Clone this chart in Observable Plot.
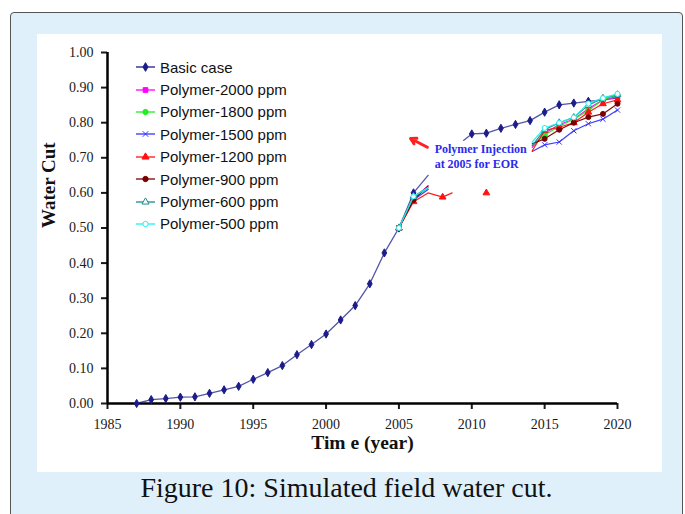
<!DOCTYPE html>
<html><head><meta charset="utf-8">
<script src="https://cdn.jsdelivr.net/npm/d3@7"></script>
<script src="https://cdn.jsdelivr.net/npm/@observablehq/plot@0.6"></script>
<style>
html,body{margin:0;padding:0;background:#fff;}
#wrap{position:relative;width:685px;height:514px;overflow:hidden;background:#fff;}
#frame{position:absolute;left:10px;top:12px;width:673px;height:530px;background:#dff0fb;border:1px solid #555;border-radius:4px;box-sizing:border-box;}
#chart{position:absolute;left:37px;top:34px;width:625px;height:438px;background:#fff;}
#legend{position:absolute;left:135px;top:56px;font-family:"Liberation Sans",Arial,sans-serif;font-size:15px;color:#111;}
#legend .row{height:22.4px;display:flex;align-items:center;white-space:nowrap;}
#legend svg{margin-right:4px;}
#caption{position:absolute;left:10px;width:673px;top:472px;text-align:center;font-family:"Liberation Serif","Times New Roman",serif;font-size:28px;color:#111;}
</style></head>
<body>
<div id="wrap">
  <div id="frame"></div>
  <div id="chart"></div>
  <div id="legend"></div>
  <div id="caption">Figure 10: Simulated field water cut.</div>
</div>
<script>
// ---- data ----
const basicYears = [1987,1988,1989,1990,1991,1992,1993,1994,1995,1996,1997,1998,1999,2000,2001,2002,2003,2004,2005,2006,2007,2008,2009.45,2010,2011,2012,2013,2014,2015,2016,2017,2018,2019,2020];
const basicValues = [0.000,0.011,0.014,0.018,0.019,0.029,0.039,0.049,0.069,0.088,0.108,0.139,0.168,0.198,0.238,0.279,0.341,0.429,0.500,0.600,0.650,null,0.750,0.768,0.770,0.784,0.795,0.806,0.830,0.851,0.856,0.861,0.865,0.870];

const polyYears = [2005,2006,2007,2008,2014.15,2015,2016,2017,2018,2019,2020];
const p2000 = [0.50,0.585,0.620,null,0.730,0.770,0.795,0.810,0.840,0.865,0.875];
const p1800 = [0.50,0.585,0.615,null,0.735,0.765,0.790,0.810,0.835,0.865,0.880];
const p1500 = [0.50,0.580,0.610,null,0.718,0.737,0.745,0.777,0.797,0.810,0.836];
const p900  = [0.50,0.580,0.620,null,0.740,0.754,0.780,0.800,0.816,0.825,0.854];
const p600  = [0.50,0.590,0.615,null,0.735,0.780,0.800,0.815,0.850,0.870,0.880];
const p500  = [0.50,0.590,0.615,null,0.745,0.785,0.800,0.815,0.855,0.870,0.882];
const p1200Years = [2005,2006,2007,2008,2008.65,2009,2011,2012,2014.15,2015,2016,2017,2018,2019,2020];
const p1200 = [0.50,0.575,0.600,0.588,0.600,null,0.600,null,0.720,0.778,0.787,0.800,0.830,0.854,0.865];

const seriesNames = ["Basic case","Polymer-2000 ppm","Polymer-1800 ppm","Polymer-1500 ppm","Polymer-1200 ppm","Polymer-900 ppm","Polymer-600 ppm","Polymer-500 ppm"];
const seriesColors = ["#1c1c8a","#ff00ff","#22ee22","#3333ff","#ff1111","#7a0000","#208a8a","#22eeee"];
const seriesSymbols = ["diamond","square","circle","times","triangle","circle","triangle","circle"];
const seriesFilled = [true,true,true,false,true,true,false,false];

const xTicks = [1985,1990,1995,2000,2005,2010,2015,2020];
const yTicks = [0,0.1,0.2,0.3,0.4,0.5,0.6,0.7,0.8,0.9,1.0];

const noteText = "Polymer Injection\nat 2005 for EOR";
const noteX = [2007.45], noteY = [0.742];
const arrowFrom = [2006.95, 0.730], arrowTo = [2005.8, 0.755];

// ---- build table ----
const seriesData = [
  [basicYears, basicValues],
  [polyYears, p2000],
  [polyYears, p1800],
  [polyYears, p1500],
  [p1200Years, p1200],
  [polyYears, p900],
  [polyYears, p600],
  [polyYears, p500]
];
const rows = [];
seriesData.forEach(([ys, vs], i) => {
  ys.forEach((y, j) => rows.push({series: seriesNames[i], idx: i, year: y, value: vs[j]}));
});
const markerRows = rows.filter(d => d.value != null && Number.isInteger(d.year) && !(d.year === 2007));

const marks = [
  Plot.axisX({ticks: xTicks, tickFormat: d => String(d), tickSize: 6, tickPadding: 10, label: null, fontSize: 14, strokeWidth: 2}),
  Plot.axisY({ticks: yTicks, tickFormat: d3.format(".2f"), tickSize: 6, tickPadding: 8, label: null, fontSize: 14, strokeWidth: 2}),
  Plot.ruleX([1985], {y1: 0, y2: 1, stroke: "#000", strokeWidth: 2.5}),
  Plot.ruleY([0], {stroke: "#000", strokeWidth: 2.5})
];
seriesNames.forEach((name, i) => {
  const sub = rows.filter(d => d.idx === i);
  marks.push(Plot.line(sub, {x: "year", y: "value", stroke: seriesColors[i], strokeWidth: i === 0 ? 1.3 : 1.2, strokeOpacity: i === 0 ? 0.75 : 0.95, curve: "linear"}));
  const m = markerRows.filter(d => d.idx === i);
  marks.push(Plot.dot(m, {x: "year", y: "value", symbol: () => seriesSymbols[i], r: 2.5,
    fill: seriesFilled[i] ? seriesColors[i] : "white", stroke: seriesColors[i], strokeWidth: 1}));
});
marks.push(
  Plot.text([noteText], {x: noteX, y: noteY, text: d => d, textAnchor: "start", lineAnchor: "top", lineHeight: 1.2,
    fill: "#2a2aee", fontFamily: "Liberation Serif", fontSize: 12, fontWeight: "bold"}),
  Plot.arrow([0], {x1: () => arrowFrom[0], y1: () => arrowFrom[1], x2: () => arrowTo[0], y2: () => arrowTo[1],
    stroke: "#ff2020", strokeWidth: 3, headLength: 7}),
  Plot.text(["Water Cut"], {text: d => d, frameAnchor: "left", dx: -59, rotate: -90, fontWeight: "bold", fontSize: 19, fill: "#111"}),
  Plot.text(["Tim e (year)"], {text: d => d, frameAnchor: "bottom", dy: 45, fontWeight: "bold", fontSize: 19.5, fill: "#111"})
);

const chart = Plot.plot({
  width: 625, height: 438,
  marginLeft: 70, marginRight: 45, marginTop: 18, marginBottom: 69,
  x: {domain: [1985, 2020]},
  y: {domain: [0, 1]},
  style: {fontFamily: "Liberation Serif, Times New Roman, serif", fontSize: "14px", color: "#1a1a1a", background: "white", overflow: "visible"},
  marks
});
document.getElementById("chart").appendChild(chart);

// ---- legend ----
const leg = d3.select("#legend");
seriesNames.forEach((name, i) => {
  const row = leg.append("div").attr("class", "row");
  const s = row.append("svg").attr("width", 21).attr("height", 12);
  s.append("line").attr("x1", 1).attr("x2", 20).attr("y1", 6).attr("y2", 6).attr("stroke", seriesColors[i]).attr("stroke-width", 1.3);
  const symMap = {diamond: d3.symbolDiamond, square: d3.symbolSquare, circle: d3.symbolCircle, times: d3.symbolTimes, triangle: d3.symbolTriangle};
  s.append("path").attr("transform", "translate(10.5,6)").attr("d", d3.symbol(symMap[seriesSymbols[i]], 22)())
    .attr("fill", seriesFilled[i] ? seriesColors[i] : "white").attr("stroke", seriesColors[i]).attr("stroke-width", 1);
  row.append("span").text(name);
});
</script>
</body></html>
